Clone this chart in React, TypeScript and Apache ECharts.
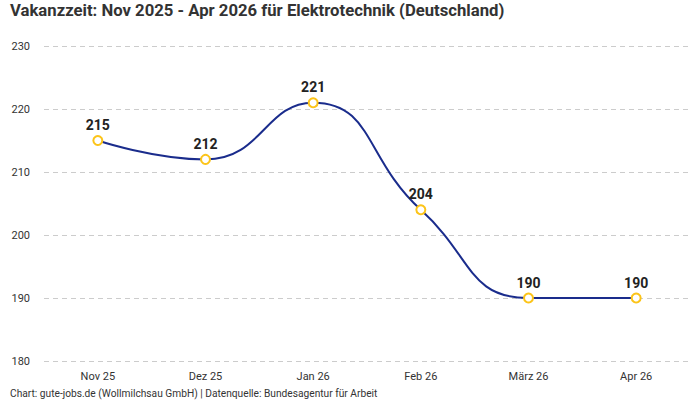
import React, { useEffect, useRef } from "react";
import * as echarts from "echarts";

const months = ["Nov 25", "Dez 25", "Jan 26", "Feb 26", "März 26", "Apr 26"];
const vacancyDays = [215, 212, 221, 204, 190, 190];
const yTicks = { min: 180, max: 230, interval: 10 };

const titleText = "Vakanzzeit: Nov 2025 - Apr 2026 für Elektrotechnik (Deutschland)";
const footerText = "Chart: gute-jobs.de (Wollmilchsau GmbH) | Datenquelle: Bundesagentur für Arbeit";

const FONT = "Roboto, 'Noto Sans', sans-serif";

export default function App() {
  const ref = useRef<HTMLDivElement>(null);

  useEffect(() => {
    if (!ref.current) return;
    const chart = echarts.init(ref.current, null, { renderer: "svg" });
    chart.setOption({
      animation: false,
      backgroundColor: "#ffffff",
      textStyle: { fontFamily: FONT },
      title: {
        text: titleText,
        left: 5,
        top: -3,
        textStyle: { fontFamily: FONT, fontSize: 16.7, fontWeight: "bold", color: "#333333" },
      },
      graphic: [
        {
          type: "text",
          left: 10,
          top: 388,
          style: { text: footerText, fontFamily: FONT, fontSize: 10.2, fill: "#333333" },
        },
      ],
      grid: { left: 44, right: 10, top: 46, bottom: 39, containLabel: false },
      xAxis: {
        type: "category",
        data: months,
        boundaryGap: true,
        axisLine: { show: false },
        axisTick: { show: false },
        axisLabel: { color: "#333333", fontSize: 11, margin: 10, fontFamily: FONT },
      },
      yAxis: {
        type: "value",
        min: yTicks.min,
        max: yTicks.max,
        interval: yTicks.interval,
        axisLine: { show: false },
        axisTick: { show: false },
        axisLabel: { color: "#333333", fontSize: 11, margin: 14, fontFamily: FONT },
        splitLine: { lineStyle: { color: "#cccccc", type: [5, 4], width: 1 } },
      },
      series: [
        {
          type: "line",
          data: vacancyDays,
          smooth: true,
          symbol: "circle",
          symbolSize: 9,
          lineStyle: { color: "#1a2c8c", width: 2 },
          itemStyle: { color: "#ffffff", borderColor: "#fcc419", borderWidth: 2 },
          label: {
            show: true,
            position: "top",
            distance: 3,
            fontSize: 14,
            fontWeight: "bold",
            color: "#222222",
            fontFamily: FONT,
          },
        },
      ],
    });
    return () => chart.dispose();
  }, []);

  return <div ref={ref} style={{ width: 700, height: 400, position: "absolute", left: 0, top: 0 }} />;
}
